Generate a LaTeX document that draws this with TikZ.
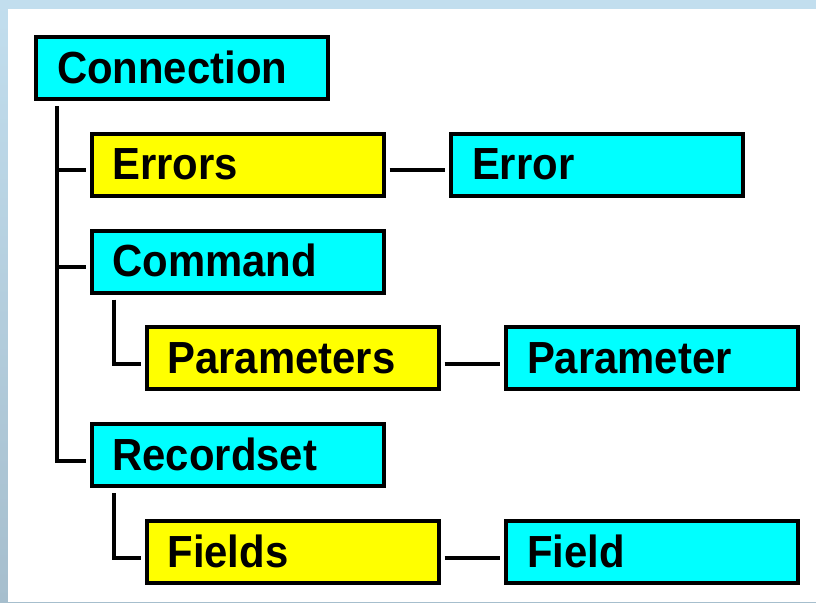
\documentclass[tikz,border=0pt]{standalone}
\usepackage{fontspec}
\setmainfont{Liberation Sans}[FakeStretch=0.93]
\definecolor{frameTop}{HTML}{C2DEEE}
\definecolor{frameBot}{HTML}{A6BECD}
\begin{document}
\begin{tikzpicture}[x=1pt,y=-1pt]
\tikzset{
  box/.style={draw=black, line width=4pt, minimum width=292pt, minimum height=62pt,
    inner xsep=21pt, inner ysep=0pt, text width=250pt, align=left,
    text height=31pt, text depth=1pt, font=\fontsize{45}{45}\selectfont\bfseries},
  obj/.style={box, fill={rgb,255:red,0;green,255;blue,255}},
  coll/.style={box, fill={rgb,255:red,255;green,255;blue,0}},
  link/.style={line width=4pt, line join=miter, line cap=butt}
}
\useasboundingbox (0,0) rectangle (816,602);
% window frame and white canvas
\shade[top color=frameTop, bottom color=frameBot] (0,0) rectangle (816,602);
\fill[white] (8,9) rectangle (816,602);

% object model boxes
\node[obj]  (conn) at (182,68)     {Connection};
\node[coll] (errs) at (237.5,164.5) {Errors};
\node[obj]  (err)  at (597,164.5)   {Error};
\node[obj]  (cmd)  at (237.5,261.5) {Command};
\node[coll] (pars) at (292.5,358)   {Parameters};
\node[obj]  (par)  at (652,358)     {Parameter};
\node[obj]  (rs)   at (237.5,455)   {Recordset};
\node[coll] (flds) at (292.5,552)   {Fields};
\node[obj]  (fld)  at (652,552)     {Field};

% attachment points of the tree lines
\coordinate (trunk) at ([xshift=23pt,yshift=-5pt]conn.south west);
\coordinate (cmdstem) at ([xshift=24pt,yshift=-5pt]cmd.south west);
\coordinate (rsstem) at ([xshift=24pt,yshift=-5pt]rs.south west);
\coordinate (errsin) at ([xshift=-4pt,yshift=-5.5pt]errs.west);
\coordinate (cmdin) at ([xshift=-4pt,yshift=-5.5pt]cmd.west);
\coordinate (rsin) at ([xshift=-4pt,yshift=-5.5pt]rs.west);
\coordinate (parsin) at ([xshift=-4pt,yshift=-5.5pt]pars.west);
\coordinate (fldsin) at ([xshift=-4pt,yshift=-5.5pt]flds.west);

% tree lines
\draw[link] (trunk) |- (rsin);
\draw[link] (errsin) -- (errsin -| trunk);
\draw[link] (cmdin) -- (cmdin -| trunk);
\draw[link] (cmdstem) |- (parsin);
\draw[link] (rsstem) |- (fldsin);

% collection to item links
\draw[link] ([xshift=4pt,yshift=-5.5pt]errs.east) -- ([xshift=-4pt,yshift=-5.5pt]err.west);
\draw[link] ([xshift=4pt,yshift=-5.5pt]pars.east) -- ([xshift=-4pt,yshift=-5.5pt]par.west);
\draw[link] ([xshift=4pt,yshift=-5.5pt]flds.east) -- ([xshift=-4pt,yshift=-5.5pt]fld.west);
\end{tikzpicture}
\end{document}
